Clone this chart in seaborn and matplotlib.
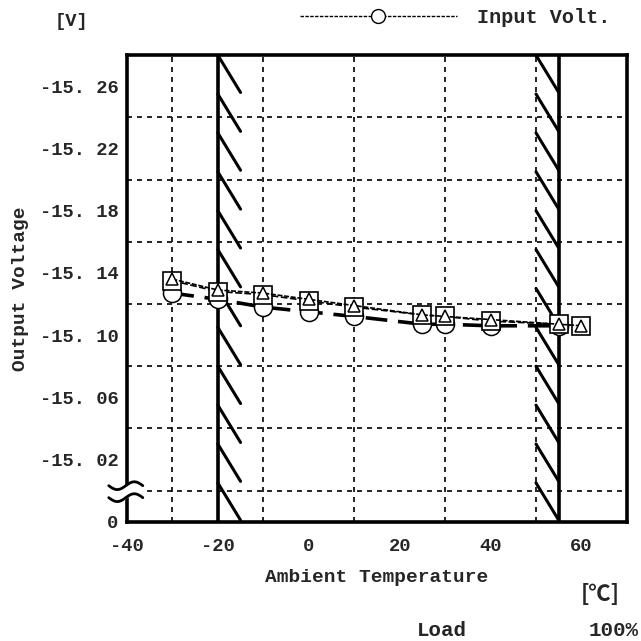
import numpy as np
import pandas as pd
import matplotlib.pyplot as plt
import seaborn as sns
from matplotlib.lines import Line2D

# data
temps = [-30, -20, -10, 0, 10, 25, 30, 40, 55, 60]
volt_tri = [-15.136, -15.129, -15.127, -15.123, -15.119, -15.113, -15.112, -15.110, -15.107, -15.106]
volt_sq = [-15.135, -15.128, -15.126, -15.122, -15.118, -15.113, -15.112, -15.109, -15.107, -15.106]
temps_circ = [-30, -20, -10, 0, 10, 25, 30, 40, 55]
volt_circ = [-15.127, -15.123, -15.118, -15.115, -15.112, -15.107, -15.107, -15.106, -15.106]

xticks = [-40, -20, 0, 20, 40, 60]
yticks = [-15.26, -15.22, -15.18, -15.14, -15.10, -15.06, -15.02, -14.98]
ylabels = ['-15. 26', '-15. 22', '-15. 18', '-15. 14', '-15. 10', '-15. 06', '-15. 02', '0']
band_lines = [-20, 55]

sns.set_style('white')
plt.rcParams['font.family'] = ['Liberation Mono', 'DejaVu Sans']
plt.rcParams['font.size'] = 13.5
plt.rcParams['font.weight'] = 'bold'
plt.rcParams['axes.labelweight'] = 'bold'
plt.rcParams['axes.unicode_minus'] = False

fig = plt.figure(figsize=(6.41, 6.41), dpi=100)
ax = fig.add_axes([0.198, 0.186, 0.780, 0.728])

df_tri = pd.DataFrame({'t': temps, 'v': volt_tri})
df_sq = pd.DataFrame({'t': temps, 'v': volt_sq})
df_circ = pd.DataFrame({'t': temps_circ, 'v': volt_circ})

sns.lineplot(data=df_circ, x='t', y='v', ax=ax, color='black', lw=2.6,
             marker='o', markersize=13, markerfacecolor='white', markeredgecolor='black',
             markeredgewidth=1.1, zorder=4)
ax.lines[-1].set_dashes((6, 3))
sns.lineplot(data=df_sq, x='t', y='v', ax=ax, color='black', lw=1.2,
             marker='s', markersize=13, markerfacecolor='white', markeredgecolor='black',
             markeredgewidth=1.2, zorder=5)
ax.lines[-1].set_dashes((4, 1.5))
sns.lineplot(data=df_tri, x='t', y='v', ax=ax, color='black', lw=1.2,
             marker='^', markersize=9, markerfacecolor='white', markeredgecolor='black',
             markeredgewidth=1.1, zorder=6)
ax.lines[-1].set_dashes((3, 1))

ax.set_xlim(-40, 70)
ax.set_ylim(-14.98, -15.28)

ax.set_xticks(np.arange(-40, 71, 10), minor=True)
ax.set_xticks(xticks)
ax.set_yticks(np.arange(-15.26, -14.999, 0.02), minor=True)
ax.set_yticks(yticks)
ax.set_yticklabels(ylabels)
ax.tick_params(which='both', length=0)
ax.tick_params(axis='x', pad=12)
ax.tick_params(axis='y', pad=6)
ax.grid(which='minor', color='black', lw=1.2, linestyle=(0, (3, 3)))
ax.grid(which='major', visible=False)
ax.set_axisbelow(True)

for s in ax.spines.values():
    s.set_linewidth(2.6)
    s.set_color('black')

# operating range limits with hatching
ymin, ymax = -15.28, -14.98
for xl in band_lines:
    ax.axvline(xl, color='black', lw=2.6, zorder=3)
starts = np.arange(-15.28, -14.99, 0.025)
for y0 in starts:
    y1 = min(y0 + 0.024, ymax)
    f = (y1 - y0) / 0.024
    ax.plot([-20, -20 + 5 * f], [y0, y1], color='black', lw=2.2, zorder=3)
    ax.plot([50, 50 + 5 * f], [y0, y1], color='black', lw=2.2, zorder=3)

# axis break mark
t = np.linspace(0, 1, 60)
xs = -44 + 7.5 * t
w1 = -15.0032 + 0.0025 * np.sin(2 * np.pi * t)
w2 = -14.9955 + 0.0025 * np.sin(2 * np.pi * t)
ax.fill_between(xs, w1, w2, color='white', clip_on=False, zorder=7)
ax.plot(xs, w1, color='black', lw=2.0, clip_on=False, zorder=8)
ax.plot(xs, w2, color='black', lw=2.0, clip_on=False, zorder=8)

ax.set_xlabel('Ambient Temperature', labelpad=10, fontsize=14)
ax.set_ylabel('Output Voltage', labelpad=8, fontsize=14)

fig.text(0.112, 0.967, '[V]', ha='center', va='center')
fig.text(0.937, 0.072, '[\u2103]', ha='center', va='center', fontsize=16,
         family=['Noto Sans CJK JP', 'DejaVu Sans'])
fig.text(0.69, 0.017, 'Load', ha='center', va='center', fontsize=15)
fig.text(0.996, 0.017, '100%', ha='right', va='center', fontsize=15)

h = Line2D([], [], color='black', lw=1.0, dashes=(2.5, 1), marker='o', markersize=10,
           markerfacecolor='white', markeredgecolor='black')
fig.legend(handles=[h], labels=['Input Volt.'], loc='center left',
           bbox_to_anchor=(0.455, 0.972), frameon=False, handlelength=7.8,
           handletextpad=1.0, borderaxespad=0, prop={'size': 14.5, 'weight': 'bold'})

fig.savefig('out.png', dpi=100)
